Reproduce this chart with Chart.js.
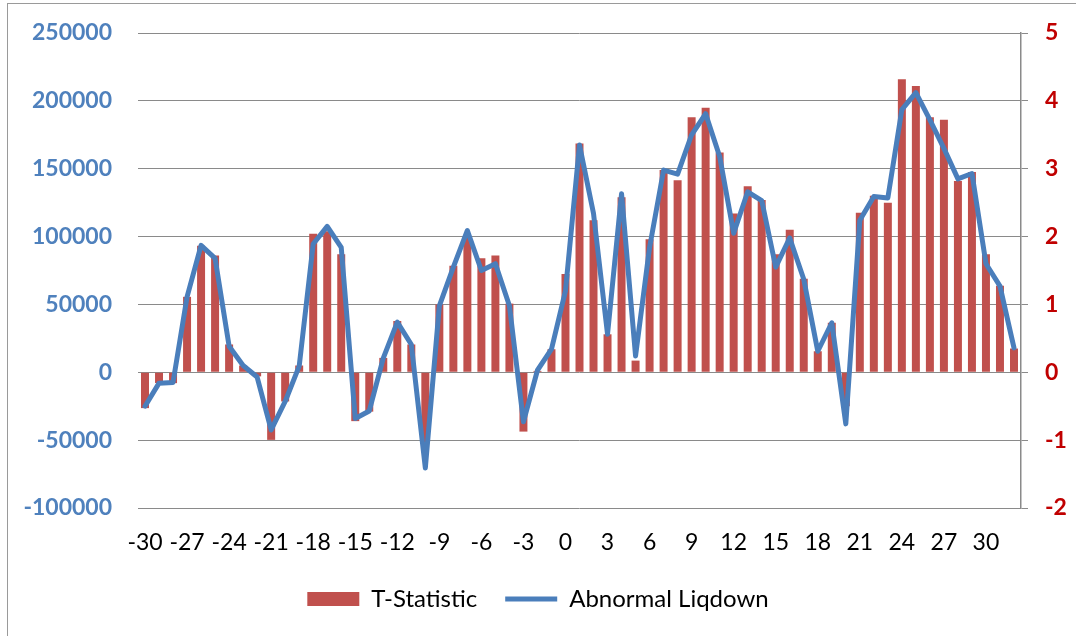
<!DOCTYPE html>
<html>
<head>
<meta charset="utf-8">
<script src="https://cdn.jsdelivr.net/npm/chart.js@4/dist/chart.umd.min.js"></script>
<style>
  html, body { margin: 0; padding: 0; background: #fff; }
  #wrap { width: 1076px; height: 636px; position: relative; }
</style>
</head>
<body>
<div id="wrap"><canvas id="chart" width="1076" height="636"></canvas></div>
<script>
const days = [-30, -29, -28, -27, -26, -25, -24, -23, -22, -21, -20, -19, -18, -17, -16, -15,
  -14, -13, -12, -11, -10, -9, -8, -7, -6, -5, -4, -3, -2, -1, 0, 1, 2, 3, 4, 5, 6, 7, 8, 9,
  10, 11, 12, 13, 14, 15, 16, 17, 18, 19, 20, 21, 22, 23, 24, 25, 26, 27, 28, 29, 30, 31, 32];

// bars, read against the left axis
const tStatistic = [-26400, -7900, -8000, 55600, 93300, 86000, 20500, 5000, -3000, -49800,
  -21500, 5000, 102000, 104000, 87000, -36000, -29000, 10600, 37800, 20500,
  -52000, 50000, 78500, 100000, 84000, 86000, 50600, -43700, 1000, 17000,
  72500, 168600, 112000, 28000, 129000, 8600, 98000, 149000, 141500, 188000,
  195000, 162000, 117000, 137000, 127000, 87000, 105000, 69000, 15500, 36500,
  -25000, 117500, 130000, 125000, 216000, 211000, 188000, 186000, 141000, 147500,
  87000, 63700, 17500];

// line, read against the right axis
const abnormalLiqdown = [-0.50, -0.16, -0.15, 1.11, 1.87, 1.68, 0.385, 0.10, -0.07, -0.85,
  -0.43, 0.09, 1.89, 2.15, 1.84, -0.68, -0.57, 0.21, 0.74, 0.41,
  -1.41, 0.98, 1.55, 2.09, 1.50, 1.60, 0.98, -0.73, 0.03, 0.34,
  1.2, 3.35, 2.34, 0.56, 2.63, 0.24, 1.84, 2.98, 2.92, 3.5,
  3.81, 3.18, 2.05, 2.66, 2.53, 1.55, 1.98, 1.37, 0.31, 0.73,
  -0.76, 2.24, 2.59, 2.57, 3.87, 4.12, 3.72, 3.30, 2.85, 2.93,
  1.60, 1.27, 0.36];

const FONT = 'Lato, "Open Sans", sans-serif';
const GRID = '#8a8a8a';

// thin grey frame like the original chart object border
const frame = {
  id: 'frame',
  beforeDraw(chart) {
    const c = chart.ctx;
    c.save();
    c.fillStyle = '#fff';
    c.fillRect(0, 0, chart.width, chart.height);
    c.strokeStyle = '#9a9a9a';
    c.lineWidth = 1;
    c.strokeRect(7.5, 3.5, chart.width + 20, chart.height + 20);
    c.restore();
  }
};

// fixed axis widths, and no extra label overflow padding above/below
const fitY = (w) => (s) => {
  s.width = w;
  s.paddingTop = 0;
  s.paddingBottom = 0;
};

new Chart(document.getElementById('chart'), {
  data: {
    labels: days,
    datasets: [
      {
        type: 'bar',
        label: 'T-Statistic',
        data: tStatistic,
        yAxisID: 'y',
        backgroundColor: '#C0504D',
        borderWidth: 0,
        barPercentage: 0.57,
        categoryPercentage: 1,
        pointStyle: 'rect',
        order: 1
      },
      {
        type: 'line',
        label: 'Abnormal Liqdown',
        data: abnormalLiqdown,
        yAxisID: 'y1',
        borderColor: '#4A7EBB',
        backgroundColor: '#4A7EBB',
        borderWidth: 5,
        borderCapStyle: 'round',
        borderJoinStyle: 'round',
        pointRadius: 0,
        pointStyle: 'line',
        tension: 0,
        order: 0
      }
    ]
  },
  options: {
    responsive: false,
    animation: false,
    layout: { padding: { top: 33, left: 0, right: 0, bottom: 15 } },
    plugins: {
      legend: {
        position: 'bottom',
        labels: {
          usePointStyle: true,
          pointStyleWidth: 52,
          boxHeight: 14,
          padding: 28,
          color: '#000',
          font: { family: FONT, size: 24 },
          sort: (a, b) => a.datasetIndex - b.datasetIndex
        }
      },
      tooltip: { enabled: false }
    },
    scales: {
      x: {
        afterFit: (s) => { s.height = 51; },
        grid: { display: false, drawTicks: false },
        border: { display: false },
        ticks: {
          autoSkip: false,
          maxRotation: 0,
          padding: 21,
          color: '#000',
          font: { family: FONT, size: 23 },
          callback: function (v, i) {
            const d = days[i];
            return (d + 30) % 3 === 0 ? String(d) : '';
          }
        }
      },
      y: {
        position: 'left',
        min: -100000,
        max: 250000,
        afterFit: fitY(138),
        grid: { color: GRID, lineWidth: 1, drawTicks: false },
        border: { display: false },
        ticks: {
          stepSize: 50000,
          padding: 26,
          color: '#4F81BD',
          font: { family: FONT, size: 23, weight: 'bold' },
          callback: (v) => String(v)
        }
      },
      y1: {
        position: 'right',
        min: -2,
        max: 5,
        afterFit: fitY(55),
        grid: { drawOnChartArea: false, color: GRID, tickLength: 7 },
        border: { display: true, color: GRID, width: 1.5 },
        ticks: {
          stepSize: 1,
          padding: 17,
          color: '#C00000',
          font: { family: FONT, size: 23, weight: 'bold' },
          callback: (v) => String(v)
        }
      }
    }
  },
  plugins: [frame]
});
</script>
</body>
</html>
